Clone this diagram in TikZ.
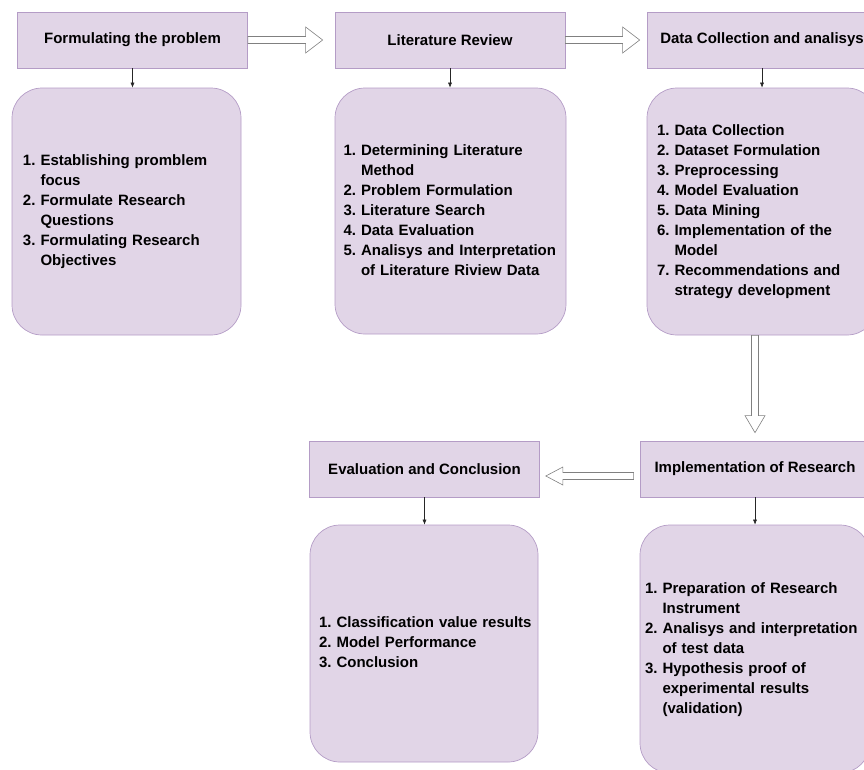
\documentclass[tikz,border=0pt]{standalone}
\usepackage{fontspec}
\setmainfont{Liberation Sans}
\usetikzlibrary{arrows.meta,calc}
\definecolor{boxfill}{HTML}{E1D5E7}
\definecolor{boxline}{HTML}{B49CC6}
\tikzset{
  headbox/.style={draw=boxline, fill=boxfill, line width=0.7pt, minimum width=230pt, minimum height=56pt, inner sep=0pt, font=\fontsize{15}{20}\selectfont\bfseries},
  listbox/.style={draw=boxline, fill=boxfill, line width=0.7pt, rounded corners=30pt, align=left, inner ysep=0pt, font=\fontsize{15}{20}\selectfont\bfseries},
  stepline/.style={-{Latex[length=5pt,width=4pt]}, line width=0.5pt, black!85},
  blockarr/.style={draw=black!50, fill=white, line width=0.6pt},
}
% numbered list with hanging lines
\newcommand{\steplist}[1]{\begin{tabular}{@{}l@{\ }l@{}}#1\end{tabular}}
% hollow block arrow from #2 to #3, #1 = half width of the head
\newcommand{\blockarrow}[3][13pt]{%
  \coordinate (ba1) at (#2);
  \coordinate (ba2) at (#3);
  \coordinate (bah) at ($(ba2)!17pt!(ba1)$);
  \draw[blockarr] ($(ba1)!3.5pt!90:(ba2)$) -- ($(bah)!3.5pt!-90:(ba1)$) -- ($(bah)!#1!-90:(ba1)$)
    -- (ba2) -- ($(bah)!#1!90:(ba1)$) -- ($(bah)!3.5pt!90:(ba1)$) -- ($(ba1)!3.5pt!-90:(ba2)$) -- cycle;}

\begin{document}
\begin{tikzpicture}[x=1pt, y=-1pt]
\useasboundingbox (0,0) rectangle (864,769);

% top row
\node[headbox] (formhead) at (132.5,40) {Formulating the problem};
\node[headbox] (revhead) at (450,40) {Literature Review};
\node[headbox] (datahead) at (762,40) {Data Collection and analisys};

\node[listbox, minimum height=247pt, inner xsep=11pt, text width=207pt] (formlist) at (126.5,211.5)
  {\steplist{1.&Establishing promblem\\&focus\\2.&Formulate Research\\&Questions\\3.&Formulating Research\\&Objectives}};
\node[listbox, minimum height=246pt, inner xsep=8.5pt, text width=214pt] (revlist) at (450.5,211)
  {\steplist{1.&Determining Literature\\&Method\\2.&Problem Formulation\\3.&Literature Search\\4.&Data Evaluation\\5.&Analisys and Interpretation\\&of Literature Riview Data}};
\node[listbox, minimum height=247pt, inner xsep=10pt, text width=210pt] (datalist) at (762,211.5)
  {\steplist{1.&Data Collection\\2.&Dataset Formulation\\3.&Preprocessing\\4.&Model Evaluation\\5.&Data Mining\\6.&Implementation of the\\&Model\\7.&Recommendations and\\&strategy development}};

% bottom row
\node[headbox] (evalhead) at (424.5,469) {Evaluation and Conclusion};
\node[headbox] (implhead) at (755,469) {Implementation of Research};

\node[listbox, minimum height=237pt, inner xsep=9pt, text width=210pt] (evallist) at (424,643.5)
  {\steplist{1.&Classification value results\\2.&Model Performance\\3.&Conclusion}};
\node[listbox, minimum height=248pt, inner xsep=5pt, text width=220pt] (impllist) at (755,649)
  {\steplist{1.&Preparation of Research\\&Instrument\\2.&Analisys and interpretation\\&of test data\\3.&Hypothesis proof of\\&experimental results\\&(validation)}};

% small arrows
\draw[stepline] (formhead.south) -- (formhead.south |- formlist.north);
\draw[stepline] (revhead.south) -- (revhead.south |- revlist.north);
\draw[stepline] (datahead.south) -- (datahead.south |- datalist.north);
\draw[stepline] (evalhead.south) -- (evalhead.south |- evallist.north);
\draw[stepline] (implhead.south) -- (implhead.south |- impllist.north);

% block arrows
\blockarrow{formhead.east}{[xshift=-12pt]revhead.west}
\blockarrow{revhead.east}{[xshift=-7pt]datahead.west}
\blockarrow[10pt]{datalist.south -| implhead.north}{[yshift=8pt]implhead.north}
\blockarrow[9pt]{[shift={(-6pt,-7pt)}]implhead.west}{[shift={(6pt,-7pt)}]evalhead.east}
\end{tikzpicture}
\end{document}
